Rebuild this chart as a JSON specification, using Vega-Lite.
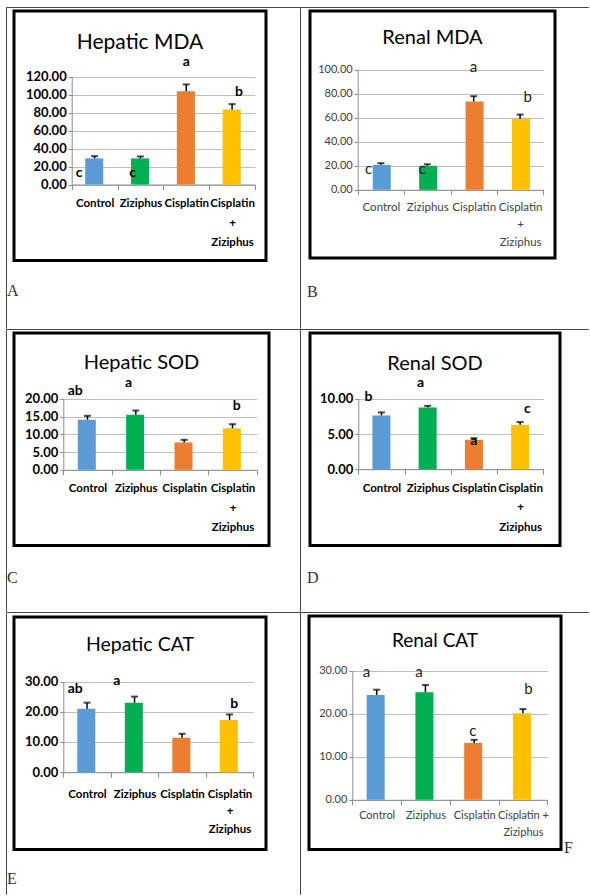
{
"$schema":"https://vega.github.io/schema/vega-lite/v6.json",
"padding":{"left":5,"top":6,"right":0,"bottom":0},
"background":"#ffffff",
"config":{"view":{"stroke":null},"axis":{"domainColor":"#8c8c8c","tickColor":"#8c8c8c","gridColor":"#bdbdbd","labelColor":"#000000"}},
"spacing":-1,
"bounds":"full",
"vconcat":[
{"width":582,"height":0.001,"view":{"stroke":"#444444","strokeWidth":1},"data":{"values":[]},"mark":"point","encoding":{}},
{"spacing":0,"bounds":"full","hconcat":[
 {"spacing":0,"bounds":"full","hconcat":[
  {"width":0.001,"height":320,"view":{"stroke":"#444444","strokeWidth":1},"data":{"values":[]},"mark":"point","encoding":{}},
  {"spacing":0,"bounds":"full","vconcat":[
   {"width":285,"height":0.001,"data":{"values":[]},"mark":"point","encoding":{}},
   {"width":252,"height":249.5,"view":{"stroke":"#000000","strokeWidth":3},
    "title":{"text":"Hepatic MDA","frame":"group","anchor":"middle","offset":-59,"baseline":"alphabetic","font":"Lato","fontSize":21,"fontWeight":"normal","color":"#000000"},
    "data":{"values":[
     {"group":"Control","mean":29,"sd":2.5,"letter":"c","ly":12.6,"lx":-0.34},
     {"group":"Ziziphus","mean":29,"sd":2.2,"letter":"c","ly":12.6,"lx":-0.17},
     {"group":"Cisplatin","mean":103.7,"sd":7.5,"letter":"a","ly":136,"lx":0},
     {"group":"Cisplatin + Ziziphus","mean":83.3,"sd":6,"letter":"b","ly":102.6,"lx":0.15}]},
    "transform":[{"calculate":"datum.mean + datum.sd","as":"hi"}],
    "encoding":{"x":{"field":"group","type":"nominal","sort":["Control","Ziziphus","Cisplatin","Cisplatin + Ziziphus"],"title":null,
      "scale":{"range":[57.7,241],"paddingInner":0,"paddingOuter":0},
      "axis":{"orient":"bottom","offset":-76,"labelAngle":0,"tickBand":"extent","tickSize":5,"labelPadding":8,"labelFont":"Lato","labelFontSize":11.5,"labelFontWeight":"bold","labelColor":"#000000","labelLineHeight":19.5,"labelOverlap":false,"labelExpr":"datum.label == 'Cisplatin + Ziziphus' ? ['Cisplatin', '+', 'Ziziphus'] : datum.label"}}},
    "layer":[
     {"mark":{"type":"bar","width":{"band":0.41}},"encoding":{"y":{"field":"mean","type":"quantitative","title":null,"scale":{"domain":[0,120],"range":[173.5,65.5],"nice":false},
       "axis":{"orient":"left","offset":-57.7,"values":[0,20,40,60,80,100,120],"format":".2f","grid":true,"tickSize":3.5,"labelPadding":2,"labelFont":"Lato","labelFontSize":13,"labelFontWeight":"bold","labelColor":"#000000"}},
       "color":{"field":"group","type":"nominal","scale":{"domain":["Control","Ziziphus","Cisplatin","Cisplatin + Ziziphus"],"range":["#5B9BD5","#00B050","#ED7D31","#FFC000"]},"legend":null}}},
     {"mark":{"type":"rule","color":"#000000","strokeWidth":1.5},"encoding":{"y":{"field":"mean","type":"quantitative","title":null},"y2":{"field":"hi"}}},
     {"mark":{"type":"tick","color":"#000000","thickness":2,"size":7},"encoding":{"y":{"field":"hi","type":"quantitative","title":null}}},
     {"mark":{"type":"text","font":"Lato","fontSize":14,"fontWeight":"bold","color":"#000000","baseline":"middle"},"encoding":{"y":{"field":"ly","type":"quantitative","title":null},"xOffset":{"field":"lx","type":"quantitative","scale":{"domain":[-0.5,0.5]}},"text":{"field":"letter"}}}
    ]},
   {"width":0.001,"height":41,"data":{"values":[{"panel":"A"}]},"mark":{"type":"text","align":"left","baseline":"top","dx":-7,"font":"Liberation Serif, DejaVu Serif, serif","fontSize":16,"color":"#333333"},"encoding":{"text":{"field":"panel"}}}
  ]}
 ]},
 {"spacing":6,"bounds":"full","hconcat":[
  {"width":0.001,"height":320,"view":{"stroke":"#444444","strokeWidth":1},"data":{"values":[]},"mark":"point","encoding":{}},
  {"spacing":0,"bounds":"full","vconcat":[
   {"width":10,"height":0.001,"data":{"values":[]},"mark":"point","encoding":{}},
   {"width":245,"height":247,"view":{"stroke":"#000000","strokeWidth":3},
    "title":{"text":"Renal MDA","frame":"group","anchor":"middle","offset":-52.5,"baseline":"alphabetic","font":"Lato","fontSize":20,"fontWeight":"normal","color":"#000000"},
    "data":{"values":[
     {"group":"Control","mean":20.8,"sd":1.4,"letter":"c","ly":17.75,"lx":-0.26},
     {"group":"Ziziphus","mean":20.0,"sd":1.3,"letter":"c","ly":17.75,"lx":-0.11},
     {"group":"Cisplatin","mean":73.6,"sd":4.4,"letter":"a","ly":102,"lx":0},
     {"group":"Cisplatin + Ziziphus","mean":59.2,"sd":3.5,"letter":"b","ly":77.7,"lx":0.17}]},
    "transform":[{"calculate":"datum.mean + datum.sd","as":"hi"}],
    "encoding":{"x":{"field":"group","type":"nominal","sort":["Control","Ziziphus","Cisplatin","Cisplatin + Ziziphus"],"title":null,
      "scale":{"range":[47.7,233.3],"paddingInner":0,"paddingOuter":0},
      "axis":{"orient":"bottom","offset":-68.2,"labelAngle":0,"tickBand":"extent","tickSize":5,"labelPadding":6.5,"labelFont":"Lato","labelFontSize":11.5,"labelFontWeight":"normal","labelColor":"#404040","labelLineHeight":17.5,"labelOverlap":false,"labelExpr":"datum.label == 'Cisplatin + Ziziphus' ? ['Cisplatin', '+', 'Ziziphus'] : datum.label"}}},
    "layer":[
     {"mark":{"type":"bar","width":{"band":0.35}},"encoding":{"y":{"field":"mean","type":"quantitative","title":null,"scale":{"domain":[0,100],"range":[178.8,58.8],"nice":false},
       "axis":{"orient":"left","offset":-47.7,"values":[0,20,40,60,80,100],"format":".2f","grid":true,"tickSize":3.5,"labelPadding":2,"labelFont":"Lato","labelFontSize":11,"labelFontWeight":"normal","labelColor":"#404040"}},
       "color":{"field":"group","type":"nominal","scale":{"domain":["Control","Ziziphus","Cisplatin","Cisplatin + Ziziphus"],"range":["#5B9BD5","#00B050","#ED7D31","#FFC000"]},"legend":null}}},
     {"mark":{"type":"rule","color":"#000000","strokeWidth":1.5},"encoding":{"y":{"field":"mean","type":"quantitative","title":null},"y2":{"field":"hi"}}},
     {"mark":{"type":"tick","color":"#000000","thickness":2,"size":7},"encoding":{"y":{"field":"hi","type":"quantitative","title":null}}},
     {"mark":{"type":"text","font":"Lato","fontSize":15,"fontWeight":"normal","color":"#222222","baseline":"middle"},"encoding":{"y":{"field":"ly","type":"quantitative","title":null},"xOffset":{"field":"lx","type":"quantitative","scale":{"domain":[-0.5,0.5]}},"text":{"field":"letter"}}}
    ]},
   {"width":0.001,"height":48,"data":{"values":[{"panel":"B"}]},"mark":{"type":"text","align":"left","baseline":"top","dx":-3,"font":"Liberation Serif, DejaVu Serif, serif","fontSize":16,"color":"#333333"},"encoding":{"text":{"field":"panel"}}}
  ]}
 ]}
]},
{"width":582,"height":0.001,"view":{"stroke":"#444444","strokeWidth":1},"data":{"values":[]},"mark":"point","encoding":{}},
{"spacing":0,"bounds":"full","hconcat":[
 {"spacing":0,"bounds":"full","hconcat":[
  {"width":0.001,"height":281,"view":{"stroke":"#444444","strokeWidth":1},"data":{"values":[]},"mark":"point","encoding":{}},
  {"spacing":0,"bounds":"full","vconcat":[
   {"width":285,"height":0.001,"data":{"values":[]},"mark":"point","encoding":{}},
   {"width":255,"height":212.5,"view":{"stroke":"#000000","strokeWidth":3},
    "title":{"text":"Hepatic SOD","frame":"group","anchor":"middle","offset":-56.3,"baseline":"alphabetic","font":"Lato","fontSize":20,"fontWeight":"normal","color":"#000000"},
    "data":{"values":[
     {"group":"Control","mean":14.1,"sd":1.1,"letter":"ab","ly":22.3,"lx":-0.24},
     {"group":"Ziziphus","mean":15.5,"sd":1.2,"letter":"a","ly":24.4,"lx":-0.13},
     {"group":"Cisplatin","mean":7.7,"sd":0.75,"letter":"","ly":0,"lx":0},
     {"group":"Cisplatin + Ziziphus","mean":11.7,"sd":1.15,"letter":"b","ly":18.1,"lx":0.12}]},
    "transform":[{"calculate":"datum.mean + datum.sd","as":"hi"}],
    "encoding":{"x":{"field":"group","type":"nominal","sort":["Control","Ziziphus","Cisplatin","Cisplatin + Ziziphus"],"title":null,
      "scale":{"range":[49.3,242.7],"paddingInner":0,"paddingOuter":0},
      "axis":{"orient":"bottom","offset":-75.7,"labelAngle":0,"tickBand":"extent","tickSize":5,"labelPadding":8,"labelFont":"Lato","labelFontSize":11.5,"labelFontWeight":"bold","labelColor":"#000000","labelLineHeight":19.5,"labelOverlap":false,"labelExpr":"datum.label == 'Cisplatin + Ziziphus' ? ['Cisplatin', '+', 'Ziziphus'] : datum.label"}}},
    "layer":[
     {"mark":{"type":"bar","width":{"band":0.4}},"encoding":{"y":{"field":"mean","type":"quantitative","title":null,"scale":{"domain":[0,20],"range":[136.8,65.8],"nice":false},
       "axis":{"orient":"left","offset":-49.3,"values":[0,5,10,15,20],"format":".2f","grid":true,"tickSize":3.5,"labelPadding":2,"labelFont":"Lato","labelFontSize":13,"labelFontWeight":"bold","labelColor":"#000000"}},
       "color":{"field":"group","type":"nominal","scale":{"domain":["Control","Ziziphus","Cisplatin","Cisplatin + Ziziphus"],"range":["#5B9BD5","#00B050","#ED7D31","#FFC000"]},"legend":null}}},
     {"mark":{"type":"rule","color":"#000000","strokeWidth":1.5},"encoding":{"y":{"field":"mean","type":"quantitative","title":null},"y2":{"field":"hi"}}},
     {"mark":{"type":"tick","color":"#000000","thickness":2,"size":7},"encoding":{"y":{"field":"hi","type":"quantitative","title":null}}},
     {"mark":{"type":"text","font":"Lato","fontSize":14,"fontWeight":"bold","color":"#000000","baseline":"middle"},"encoding":{"y":{"field":"ly","type":"quantitative","title":null},"xOffset":{"field":"lx","type":"quantitative","scale":{"domain":[-0.5,0.5]}},"text":{"field":"letter"}}}
    ]},
   {"width":0.001,"height":45,"data":{"values":[{"panel":"C"}]},"mark":{"type":"text","align":"left","baseline":"top","dx":-7,"font":"Liberation Serif, DejaVu Serif, serif","fontSize":16,"color":"#333333"},"encoding":{"text":{"field":"panel"}}}
  ]}
 ]},
 {"spacing":6,"bounds":"full","hconcat":[
  {"width":0.001,"height":281,"view":{"stroke":"#444444","strokeWidth":1},"data":{"values":[]},"mark":"point","encoding":{}},
  {"spacing":0,"bounds":"full","vconcat":[
   {"width":10,"height":0.001,"data":{"values":[]},"mark":"point","encoding":{}},
   {"width":250,"height":212.5,"view":{"stroke":"#000000","strokeWidth":3},
    "title":{"text":"Renal SOD","frame":"group","anchor":"middle","offset":-56.5,"baseline":"alphabetic","font":"Lato","fontSize":20,"fontWeight":"normal","color":"#000000"},
    "data":{"values":[
     {"group":"Control","mean":7.64,"sd":0.42,"letter":"b","ly":10.3,"lx":-0.28},
     {"group":"Ziziphus","mean":8.78,"sd":0.22,"letter":"a","ly":12.2,"lx":-0.15},
     {"group":"Cisplatin","mean":4.18,"sd":0.22,"letter":"a","ly":4.0,"lx":0},
     {"group":"Cisplatin + Ziziphus","mean":6.3,"sd":0.4,"letter":"c","ly":8.6,"lx":0.16}]},
    "transform":[{"calculate":"datum.mean + datum.sd","as":"hi"}],
    "encoding":{"x":{"field":"group","type":"nominal","sort":["Control","Ziziphus","Cisplatin","Cisplatin + Ziziphus"],"title":null,
      "scale":{"range":[48.3,233.3],"paddingInner":0,"paddingOuter":0},
      "axis":{"orient":"bottom","offset":-76.3,"labelAngle":0,"tickBand":"extent","tickSize":5,"labelPadding":8,"labelFont":"Lato","labelFontSize":11.5,"labelFontWeight":"bold","labelColor":"#000000","labelLineHeight":19.5,"labelOverlap":false,"labelExpr":"datum.label == 'Cisplatin + Ziziphus' ? ['Cisplatin', '+', 'Ziziphus'] : datum.label"}}},
    "layer":[
     {"mark":{"type":"bar","width":{"band":0.39}},"encoding":{"y":{"field":"mean","type":"quantitative","title":null,"scale":{"domain":[0,10],"range":[136.2,65.8],"nice":false},
       "axis":{"orient":"left","offset":-48.3,"values":[0,5,10],"format":".2f","grid":true,"tickSize":3.5,"labelPadding":2,"labelFont":"Lato","labelFontSize":13,"labelFontWeight":"bold","labelColor":"#000000"}},
       "color":{"field":"group","type":"nominal","scale":{"domain":["Control","Ziziphus","Cisplatin","Cisplatin + Ziziphus"],"range":["#5B9BD5","#00B050","#ED7D31","#FFC000"]},"legend":null}}},
     {"mark":{"type":"rule","color":"#000000","strokeWidth":1.5},"encoding":{"y":{"field":"mean","type":"quantitative","title":null},"y2":{"field":"hi"}}},
     {"mark":{"type":"tick","color":"#000000","thickness":2,"size":7},"encoding":{"y":{"field":"hi","type":"quantitative","title":null}}},
     {"mark":{"type":"text","font":"Lato","fontSize":14,"fontWeight":"bold","color":"#000000","baseline":"middle"},"encoding":{"y":{"field":"ly","type":"quantitative","title":null},"xOffset":{"field":"lx","type":"quantitative","scale":{"domain":[-0.5,0.5]}},"text":{"field":"letter"}}}
    ]},
   {"width":0.001,"height":45,"data":{"values":[{"panel":"D"}]},"mark":{"type":"text","align":"left","baseline":"top","dx":-3,"font":"Liberation Serif, DejaVu Serif, serif","fontSize":16,"color":"#333333"},"encoding":{"text":{"field":"panel"}}}
  ]}
 ]}
]},
{"width":582,"height":0.001,"view":{"stroke":"#444444","strokeWidth":1},"data":{"values":[]},"mark":"point","encoding":{}},
{"spacing":0,"bounds":"full","hconcat":[
 {"spacing":0,"bounds":"full","hconcat":[
  {"width":0.001,"height":281,"view":{"stroke":"#444444","strokeWidth":1},"data":{"values":[]},"mark":"point","encoding":{}},
  {"spacing":0,"bounds":"full","vconcat":[
   {"width":285,"height":1.5,"data":{"values":[]},"mark":"point","encoding":{}},
   {"width":252,"height":232.5,"view":{"stroke":"#000000","strokeWidth":3},
    "title":{"text":"Hepatic CAT","frame":"group","anchor":"middle","offset":-53,"baseline":"alphabetic","font":"Lato","fontSize":19.5,"fontWeight":"normal","color":"#000000"},
    "data":{"values":[
     {"group":"Control","mean":21.0,"sd":2.0,"letter":"ab","ly":27.6,"lx":-0.24},
     {"group":"Ziziphus","mean":23.0,"sd":2.0,"letter":"a","ly":30.3,"lx":-0.37},
     {"group":"Cisplatin","mean":11.4,"sd":1.3,"letter":"","ly":0,"lx":0},
     {"group":"Cisplatin + Ziziphus","mean":17.3,"sd":1.8,"letter":"b","ly":22.6,"lx":0.12}]},
    "transform":[{"calculate":"datum.mean + datum.sd","as":"hi"}],
    "encoding":{"x":{"field":"group","type":"nominal","sort":["Control","Ziziphus","Cisplatin","Cisplatin + Ziziphus"],"title":null,
      "scale":{"range":[49.3,239.3],"paddingInner":0,"paddingOuter":0},
      "axis":{"orient":"bottom","offset":-77.3,"labelAngle":0,"tickBand":"extent","tickSize":5,"labelPadding":11,"labelFont":"Lato","labelFontSize":11.5,"labelFontWeight":"bold","labelColor":"#000000","labelLineHeight":17.5,"labelOverlap":false,"labelExpr":"datum.label == 'Cisplatin + Ziziphus' ? ['Cisplatin', '+', 'Ziziphus'] : datum.label"}}},
    "layer":[
     {"mark":{"type":"bar","width":{"band":0.41}},"encoding":{"y":{"field":"mean","type":"quantitative","title":null,"scale":{"domain":[0,30],"range":[155.2,64.5],"nice":false},
       "axis":{"orient":"left","offset":-49.3,"values":[0,10,20,30],"format":".2f","grid":true,"tickSize":3.5,"labelPadding":2,"labelFont":"Lato","labelFontSize":13,"labelFontWeight":"bold","labelColor":"#000000"}},
       "color":{"field":"group","type":"nominal","scale":{"domain":["Control","Ziziphus","Cisplatin","Cisplatin + Ziziphus"],"range":["#5B9BD5","#00B050","#ED7D31","#FFC000"]},"legend":null}}},
     {"mark":{"type":"rule","color":"#000000","strokeWidth":1.5},"encoding":{"y":{"field":"mean","type":"quantitative","title":null},"y2":{"field":"hi"}}},
     {"mark":{"type":"tick","color":"#000000","thickness":2,"size":7},"encoding":{"y":{"field":"hi","type":"quantitative","title":null}}},
     {"mark":{"type":"text","font":"Lato","fontSize":14,"fontWeight":"bold","color":"#000000","baseline":"middle"},"encoding":{"y":{"field":"ly","type":"quantitative","title":null},"xOffset":{"field":"lx","type":"quantitative","scale":{"domain":[-0.5,0.5]}},"text":{"field":"letter"}}}
    ]},
   {"width":0.001,"height":40,"data":{"values":[{"panel":"E"}]},"mark":{"type":"text","align":"left","baseline":"top","dx":-7,"font":"Liberation Serif, DejaVu Serif, serif","fontSize":16,"color":"#333333"},"encoding":{"text":{"field":"panel"}}}
  ]}
 ]},
 {"spacing":6,"bounds":"full","hconcat":[
  {"width":0.001,"height":281,"view":{"stroke":"#444444","strokeWidth":1},"data":{"values":[]},"mark":"point","encoding":{}},
  {"spacing":0,"bounds":"full","vconcat":[
   {"width":10,"height":0.001,"data":{"values":[]},"mark":"point","encoding":{}},
   {"spacing":1,"bounds":"full","hconcat":[
    {"width":252,"height":233.5,"view":{"stroke":"#000000","strokeWidth":3},
     "title":{"text":"Renal CAT","frame":"group","anchor":"middle","offset":-50.3,"baseline":"alphabetic","font":"Lato","fontSize":19,"fontWeight":"normal","color":"#000000"},
     "data":{"values":[
      {"group":"Control","mean":24.4,"sd":1.2,"letter":"a","ly":29.8,"lx":-0.19},
      {"group":"Ziziphus","mean":25.0,"sd":1.7,"letter":"a","ly":29.8,"lx":-0.11},
      {"group":"Cisplatin","mean":13.2,"sd":0.75,"letter":"c","ly":16.1,"lx":0},
      {"group":"Cisplatin + Ziziphus","mean":20.1,"sd":1.0,"letter":"b","ly":25.7,"lx":0.15}]},
     "transform":[{"calculate":"datum.mean + datum.sd","as":"hi"}],
     "encoding":{"x":{"field":"group","type":"nominal","sort":["Control","Ziziphus","Cisplatin","Cisplatin + Ziziphus"],"title":null,
       "scale":{"range":[43.3,238.3],"paddingInner":0,"paddingOuter":0},
       "axis":{"orient":"bottom","offset":-49.7,"labelAngle":0,"tickBand":"extent","tickSize":5,"labelPadding":5,"labelFont":"Lato","labelFontSize":11,"labelFontWeight":"normal","labelColor":"#404040","labelLineHeight":16.7,"labelOverlap":false,"labelExpr":"datum.label == 'Cisplatin + Ziziphus' ? ['Cisplatin +', 'Ziziphus'] : datum.label"}}},
     "layer":[
      {"mark":{"type":"bar","width":{"band":0.41}},"encoding":{"y":{"field":"mean","type":"quantitative","title":null,"scale":{"domain":[0,30],"range":[183.8,54.8],"nice":false},
        "axis":{"orient":"left","offset":-43.3,"values":[0,5,10,15,20,25,30],"format":".2f","grid":true,"tickSize":3.5,"labelPadding":2,"labelFont":"Lato","labelFontSize":11,"labelFontWeight":"normal","labelColor":"#404040"}},
        "color":{"field":"group","type":"nominal","scale":{"domain":["Control","Ziziphus","Cisplatin","Cisplatin + Ziziphus"],"range":["#5B9BD5","#00B050","#ED7D31","#FFC000"]},"legend":null}}},
      {"mark":{"type":"rule","color":"#000000","strokeWidth":1.5},"encoding":{"y":{"field":"mean","type":"quantitative","title":null},"y2":{"field":"hi"}}},
      {"mark":{"type":"tick","color":"#000000","thickness":2,"size":7},"encoding":{"y":{"field":"hi","type":"quantitative","title":null}}},
      {"mark":{"type":"text","font":"Lato","fontSize":15,"fontWeight":"normal","color":"#222222","baseline":"middle"},"encoding":{"y":{"field":"ly","type":"quantitative","title":null},"xOffset":{"field":"lx","type":"quantitative","scale":{"domain":[-0.5,0.5]}},"text":{"field":"letter"}}}
     ]},
    {"width":0.001,"height":237,"data":{"values":[{"panel":"F"}]},"mark":{"type":"text","align":"left","baseline":"alphabetic","font":"Liberation Serif, DejaVu Serif, serif","fontSize":16,"color":"#333333"},"encoding":{"text":{"field":"panel"},"y":{"datum":0,"type":"quantitative","scale":{"domain":[0,1]},"axis":null}}}
   ]}
  ]}
 ]}
]}
]
}
